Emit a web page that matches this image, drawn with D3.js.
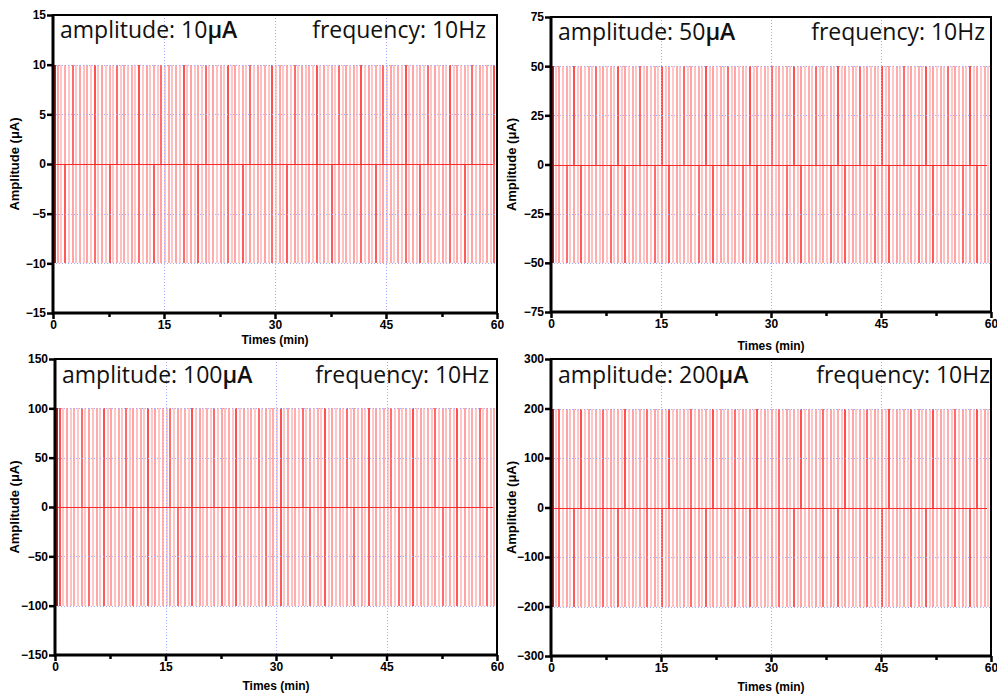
<!DOCTYPE html>
<html>
<head>
<meta charset="utf-8">
<script src="https://cdn.jsdelivr.net/npm/d3@7"></script>
<style>
  body { margin: 0; background: #fff; }
  svg { display: block; }
</style>
</head>
<body>
<svg id="chart" width="997" height="694"></svg>
<script>
// Stimulation protocol, 4 panels (amplitude sweep at 10 Hz)

// Data
const amplitudes = [10, 50, 100, 200];          // µA per panel
const frequencyHz = 10;
const durationMin = 60;
const yDomains = [[-15, 15], [-75, 75], [-150, 150], [-300, 300]];
const yTicks = [
  [-15, -10, -5, 0, 5, 10, 15],
  [-75, -50, -25, 0, 25, 50, 75],
  [-150, -100, -50, 0, 50, 100, 150],
  [-300, -200, -100, 0, 100, 200, 300],
];
const xTicks = [0, 15, 30, 45, 60];
const xMinorTicks = [7.5, 22.5, 37.5, 52.5];
const traceStepMin = 0.5; // decimation of the plotted trace

// Layout (plot areas)
const panels = [
  { left: 53, top: 15, right: 497, bottom: 313, yLabelX: 19, xLabelY: 344, textY: 38, freqRight: 486 },
  { left: 551, top: 17, right: 991, bottom: 312, yLabelX: 516, xLabelY: 350, textY: 40, freqRight: 985 },
  { left: 55, top: 359, right: 497, bottom: 655, yLabelX: 19, xLabelY: 690, textY: 383, freqRight: 489 },
  { left: 551, top: 359, right: 991, bottom: 656, yLabelX: 516, xLabelY: 691, textY: 383, freqRight: 990 },
];

// aliasing look of the dense pulse train (colour per drawn edge)
const shadeTop = ["#ffc8c8", "#ffa4a4", "#ffc8c8", "#ffacac", "#ffc8c8", "#ff6a6a",
  "#ffc8c8", "#ffa4a4", "#ffc0c0", "#ffacac", "#ffc8c8", "#ff5050"];
const shadeBottom = ["#ffc8c8", "#ffa6a6", "#ffc8c8", "#ff5a5a", "#ffc8c8", "#ffa4a4",
  "#ffc0c0", "#ffacac", "#ffc8c8", "#ffa4a4", "#ffc8c8", "#ff6c6c"];

const svg = d3.select("#chart");
const traceTimes = d3.range(0, durationMin, traceStepMin);
const fontSans = "Liberation Sans, Arial, sans-serif";
const fontNote = "Open Sans, Noto Sans, sans-serif";

panels.forEach((p, i) => {
  const amp = amplitudes[i];
  const x = d3.scaleLinear().domain([0, durationMin]).range([p.left, p.right]);
  const y = d3.scaleLinear().domain(yDomains[i]).range([p.bottom, p.top]);
  const g = svg.append("g");
  const px = (v) => Math.round(x(v)) + 0.5;

  // pulse train
  const trace = g.append("g").attr("shape-rendering", "crispEdges");
  trace.selectAll("line.up").data(traceTimes).join("line")
    .attr("x1", (d) => Math.round(x(d)) + 1).attr("x2", (d) => Math.round(x(d)) + 1)
    .attr("y1", y(0)).attr("y2", y(amp))
    .attr("stroke-width", 2)
    .attr("stroke", (d, k) => shadeTop[(k + i * 5) % shadeTop.length]);
  trace.selectAll("line.down").data(traceTimes).join("line")
    .attr("x1", (d) => Math.round(x(d)) + 1).attr("x2", (d) => Math.round(x(d)) + 1)
    .attr("y1", y(0)).attr("y2", y(-amp))
    .attr("stroke-width", 2)
    .attr("stroke", (d, k) => shadeBottom[(k + i * 7) % shadeBottom.length]);
  // baseline
  trace.append("line")
    .attr("x1", x(0)).attr("x2", x(durationMin - traceStepMin))
    .attr("y1", Math.round(y(0)) + 0.5).attr("y2", Math.round(y(0)) + 0.5)
    .attr("stroke", "#ff2a2a");
  // first pulse sits on the axis
  trace.append("line")
    .attr("x1", x(0) + 2).attr("x2", x(0) + 2)
    .attr("y1", y(-amp)).attr("y2", y(amp))
    .attr("stroke", "#c01818").attr("stroke-width", 2);

  // grid (blue dotted), drawn over the trace
  const grid = g.append("g")
    .attr("stroke", "#a4acff")
    .attr("stroke-width", 1)
    .attr("stroke-dasharray", "1,2");
  grid.selectAll("line.v").data(xTicks.slice(1, -1)).join("line")
    .attr("x1", px).attr("x2", px)
    .attr("y1", p.top).attr("y2", p.bottom);
  grid.selectAll("line.h").data(yTicks[i].slice(1, -1).filter((d) => d !== 0)).join("line")
    .attr("x1", p.left).attr("x2", p.right)
    .attr("y1", (d) => Math.round(y(d)) + 0.5).attr("y2", (d) => Math.round(y(d)) + 0.5);

  // frame
  g.append("path")
    .attr("d", `M${p.left},${p.bottom}V${p.top}H${p.right}V${p.bottom}`)
    .attr("fill", "none").attr("stroke", "#000").attr("stroke-width", 2);
  g.append("path")
    .attr("d", `M${p.left},${p.top}V${p.bottom}H${p.right}`)
    .attr("fill", "none").attr("stroke", "#000").attr("stroke-width", 3);

  // axes
  const yAxis = d3.axisLeft(y).tickValues(yTicks[i]).tickSize(6).tickSizeOuter(0).tickPadding(1);
  const yg = g.append("g").attr("transform", `translate(${p.left},0)`).call(yAxis);
  const xAxis = d3.axisBottom(x).tickValues(xTicks).tickSize(6).tickSizeOuter(0).tickPadding(1);
  const xg = g.append("g").attr("transform", `translate(0,${p.bottom})`).call(xAxis);
  [yg, xg].forEach((a) => {
    a.select(".domain").remove();
    a.selectAll(".tick line").attr("stroke", "#000").attr("stroke-width", 2.5);
    a.selectAll(".tick text")
      .attr("fill", "#000")
      .attr("font-family", fontSans)
      .attr("font-weight", "bold")
      .attr("font-size", 12);
  });
  g.append("g").selectAll("line").data(xMinorTicks).join("line")
    .attr("x1", px).attr("x2", px)
    .attr("y1", p.bottom).attr("y2", p.bottom + 4)
    .attr("stroke", "#000").attr("stroke-width", 2.5);

  // axis titles
  g.append("text")
    .attr("x", (p.left + p.right) / 2).attr("y", p.xLabelY)
    .attr("text-anchor", "middle")
    .attr("font-family", fontSans)
    .attr("font-weight", "bold").attr("font-size", 12)
    .text("Times (min)");
  g.append("text")
    .attr("transform", `translate(${p.yLabelX},${(p.top + p.bottom) / 2}) rotate(-90)`)
    .attr("text-anchor", "middle")
    .attr("font-family", fontSans)
    .attr("font-weight", "bold").attr("font-size", 13)
    .text("Amplitude (μA)");

  // annotations
  const ann = g.append("text")
    .attr("x", p.left + 7).attr("y", p.textY)
    .attr("font-family", fontNote)
    .attr("font-size", 23).attr("fill", "#111");
  ann.append("tspan").text(`amplitude: ${amp}`);
  ann.append("tspan").attr("font-weight", 600).text("μA");
  g.append("text")
    .attr("x", p.freqRight).attr("y", p.textY)
    .attr("text-anchor", "end")
    .attr("font-family", fontNote)
    .attr("font-size", 23).attr("fill", "#111")
    .text(`frequency: ${frequencyHz}Hz`);
});
</script>
</body>
</html>
